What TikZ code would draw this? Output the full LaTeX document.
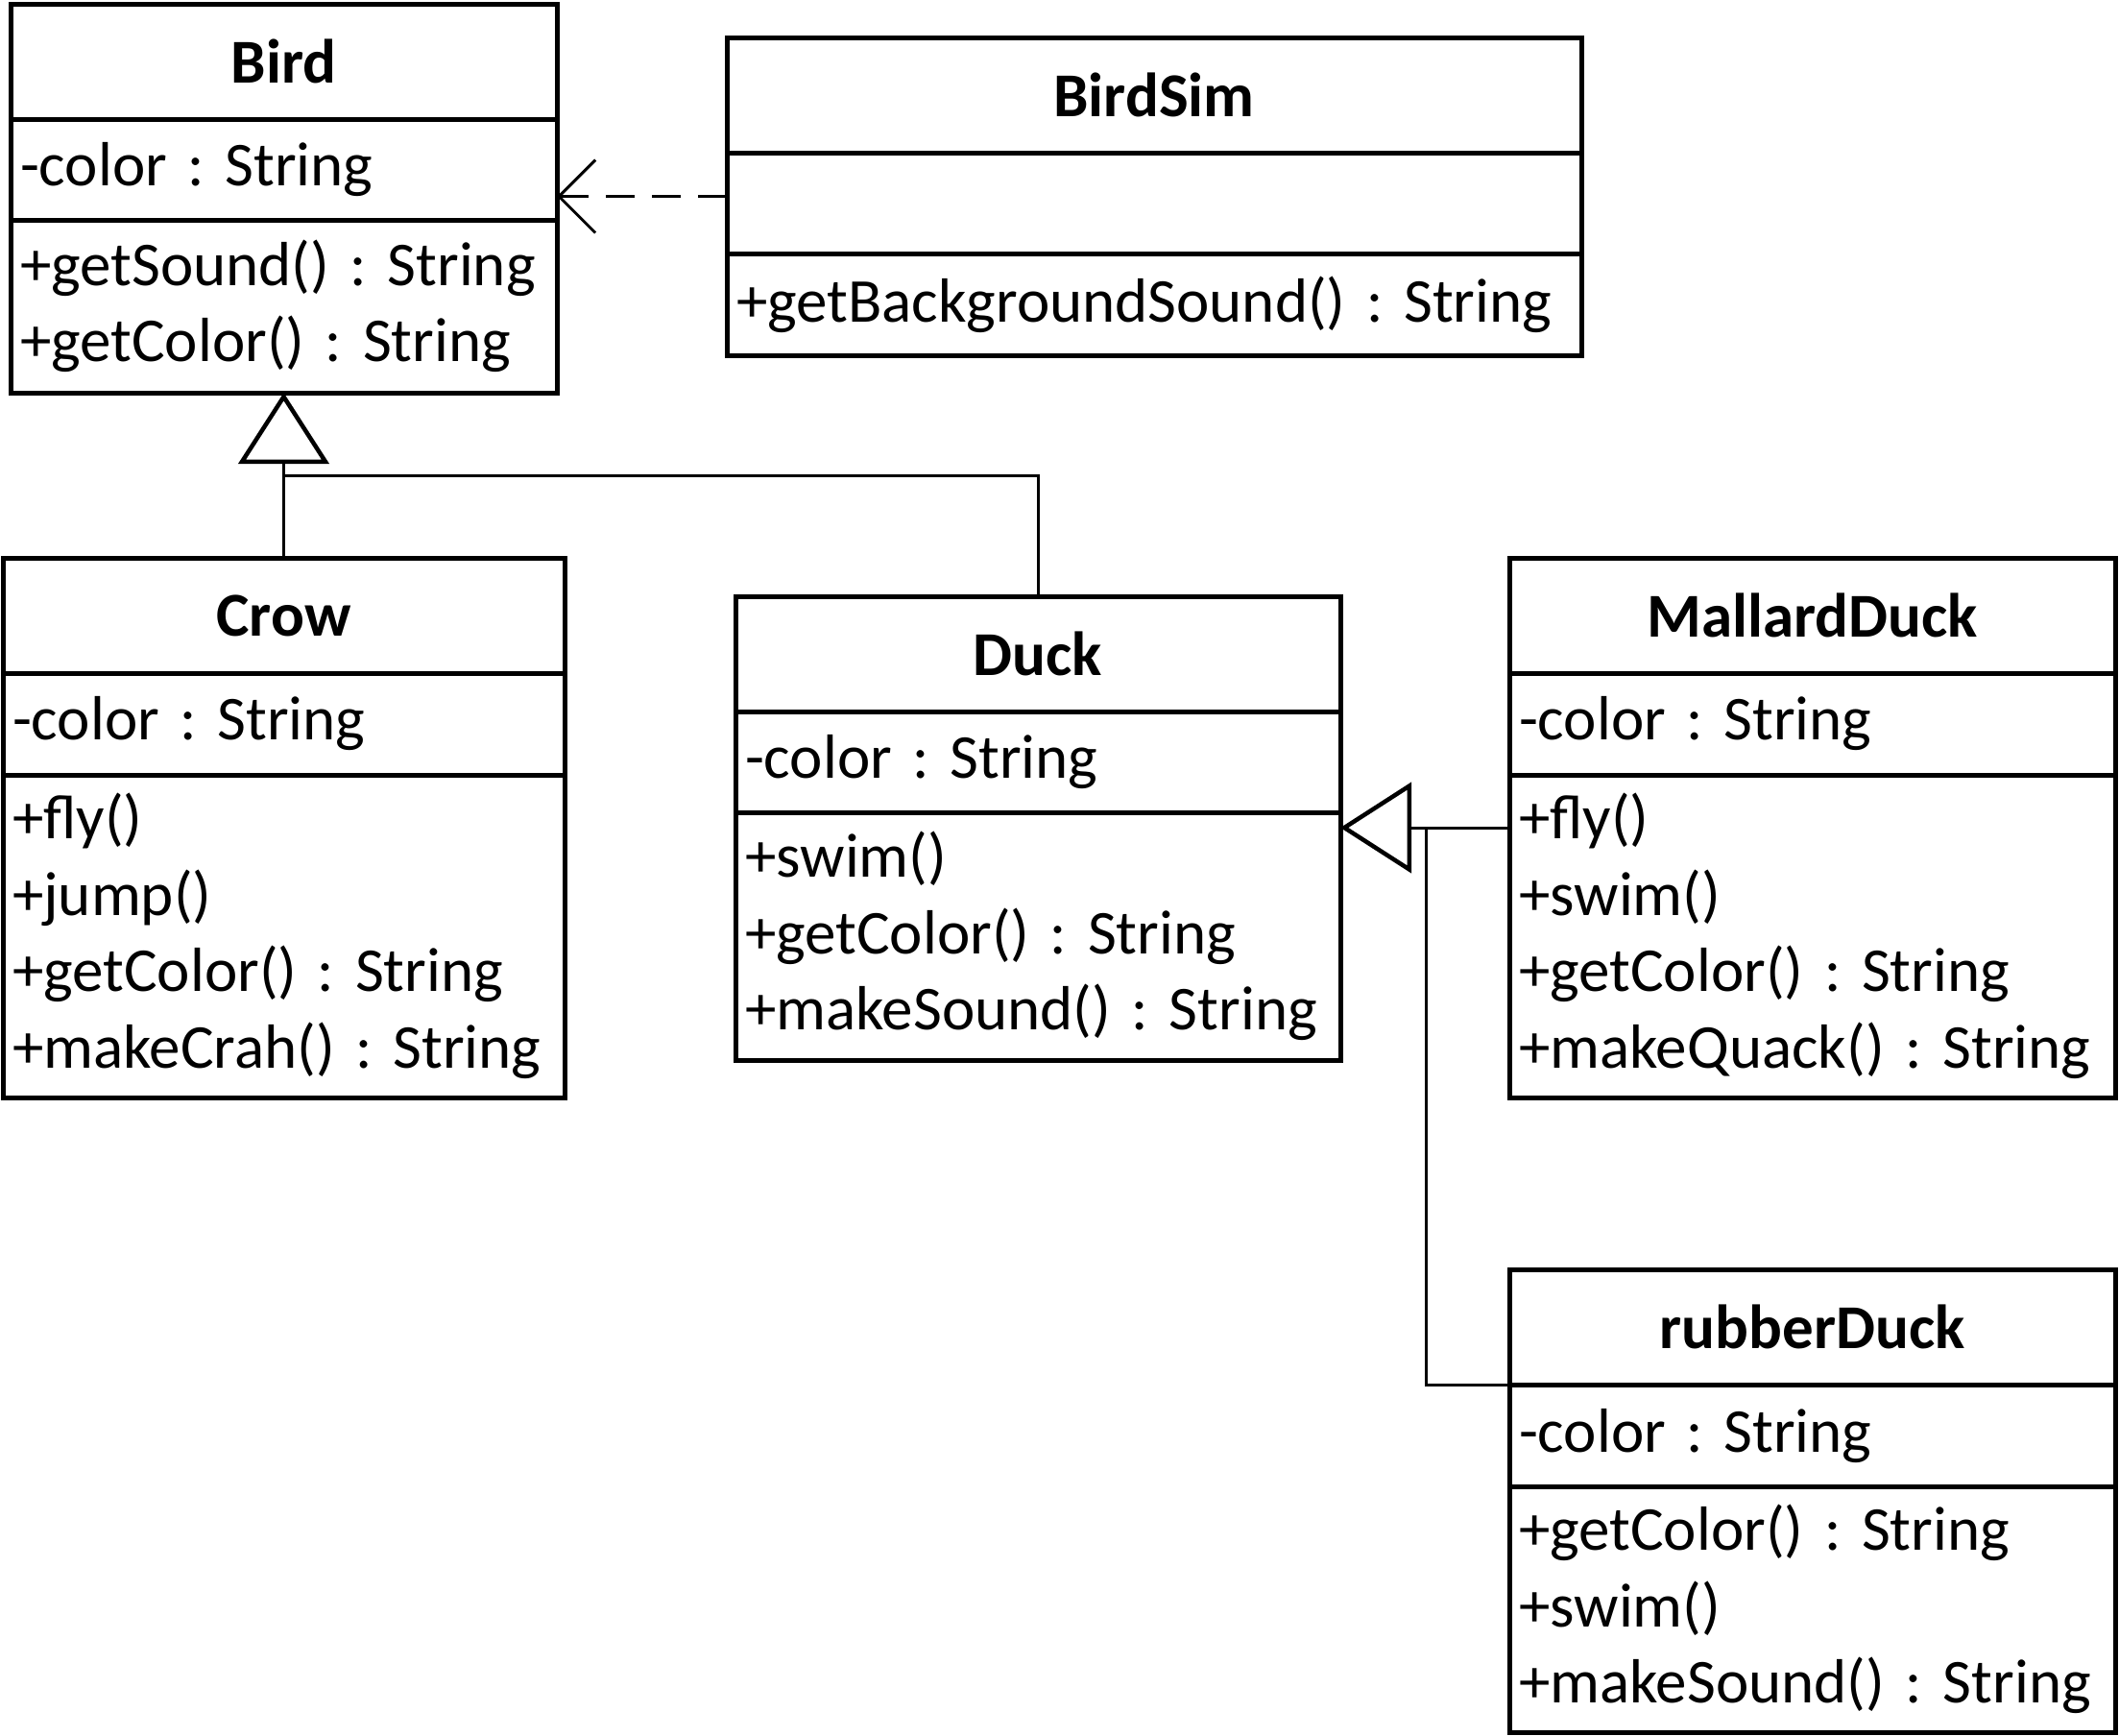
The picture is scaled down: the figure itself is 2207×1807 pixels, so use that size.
\documentclass[tikz,border=0pt]{standalone}
\usepackage{fontspec}
\setmainfont{Carlito}
\frenchspacing
\usetikzlibrary{arrows.meta,calc,positioning}

\tikzset{
  umltitle/.style={draw, line width=5pt, outer sep=0pt, anchor=north west, inner sep=0pt, minimum height=120pt, font=\fontsize{65pt}{79.5pt}\selectfont\bfseries},
  umlbody/.style={draw, line width=5pt, outer sep=0pt, anchor=north west, inner xsep=10pt, inner ysep=0pt, align=left, font=\fontsize{65pt}{79.5pt}\selectfont},
  extends/.style={line width=3pt, -{Triangle[open, length=74pt, width=94pt, line width=4.5pt]}},
  uses/.style={line width=3pt, dash pattern=on 30pt off 18pt, -{Straight Barb[length=38pt, width=76pt, line width=3pt]}},
  tree/.style={line width=3pt},
}

\begin{document}
\begin{tikzpicture}[x=1pt,y=1pt,yscale=-1,xscale=1]
%set diagram left start at 0, and has height of 1807
\useasboundingbox (0,0) rectangle (2207,1807);

%Class Bird
\node[umltitle, minimum width=569pt] (birdT) at (11,4) {Bird};
\node[umlbody, text width=549pt, minimum height=105pt] (birdA) at (birdT.south west) {-color : String};
\node[umlbody, text width=549pt, minimum height=180pt] (birdM) at (birdA.south west) {+getSound() : String\\+getColor() : String};

%Class BirdSim
\node[umltitle, minimum width=890pt] (simT) at (757,39) {BirdSim};
\node[umlbody, text width=870pt, minimum height=105pt] (simA) at (simT.south west) {};
\node[umlbody, text width=870pt, minimum height=106pt] (simM) at (simA.south west) {+getBackgroundSound() : String};

%Class Crow
\node[umltitle, minimum width=585pt] (crowT) at (3,581) {Crow};
\node[umlbody, text width=565pt, minimum height=106pt] (crowA) at (crowT.south west) {-color : String};
\node[umlbody, text width=565pt, minimum height=336pt] (crowM) at (crowA.south west) {+fly()\\+jump()\\+getColor() : String\\+makeCrah() : String};

%Class Duck
\node[umltitle, minimum width=630pt] (duckT) at (766,621) {Duck};
\node[umlbody, text width=610pt, minimum height=105pt] (duckA) at (duckT.south west) {-color : String};
\node[umlbody, text width=610pt, minimum height=258pt] (duckM) at (duckA.south west) {+swim()\\+getColor() : String\\+makeSound() : String};

%Class MallardDuck
\node[umltitle, minimum width=631pt] (mallT) at (1572,581) {MallardDuck};
\node[umlbody, text width=611pt, minimum height=106pt] (mallA) at (mallT.south west) {-color : String};
\node[umlbody, text width=611pt, minimum height=336pt] (mallM) at (mallA.south west) {+fly()\\+swim()\\+getColor() : String\\+makeQuack() : String};

%Class rubberDuck
\node[umltitle, minimum width=631pt] (rubT) at (1572,1322) {rubberDuck};
\node[umlbody, text width=611pt, minimum height=106pt] (rubA) at (rubT.south west) {-color : String};
\node[umlbody, text width=611pt, minimum height=256pt] (rubM) at (rubA.south west) {+getColor() : String\\+swim()\\+makeSound() : String};

%Join points
\coordinate (dep) at ($(simA.west)+(0,-7)$);
\coordinate (birdJoin) at ($(birdM.south)+(0,86)$);
\coordinate (duckTip) at ($(duckM.north east)+(0,16)$);
\coordinate (duckJoin) at ($(duckTip)+(89,0)$);

%Straight Lines
\draw[uses] (dep) -- (dep -| birdA.east);
\draw[extends] (crowT.north) -- (birdM.south);
\draw[tree] (duckT.north) |- (birdJoin);
\draw[extends] (duckTip -| mallM.west) -- (duckTip);
\draw[tree] (rubT.south west) -| (duckJoin);

\end{tikzpicture}
\end{document}
